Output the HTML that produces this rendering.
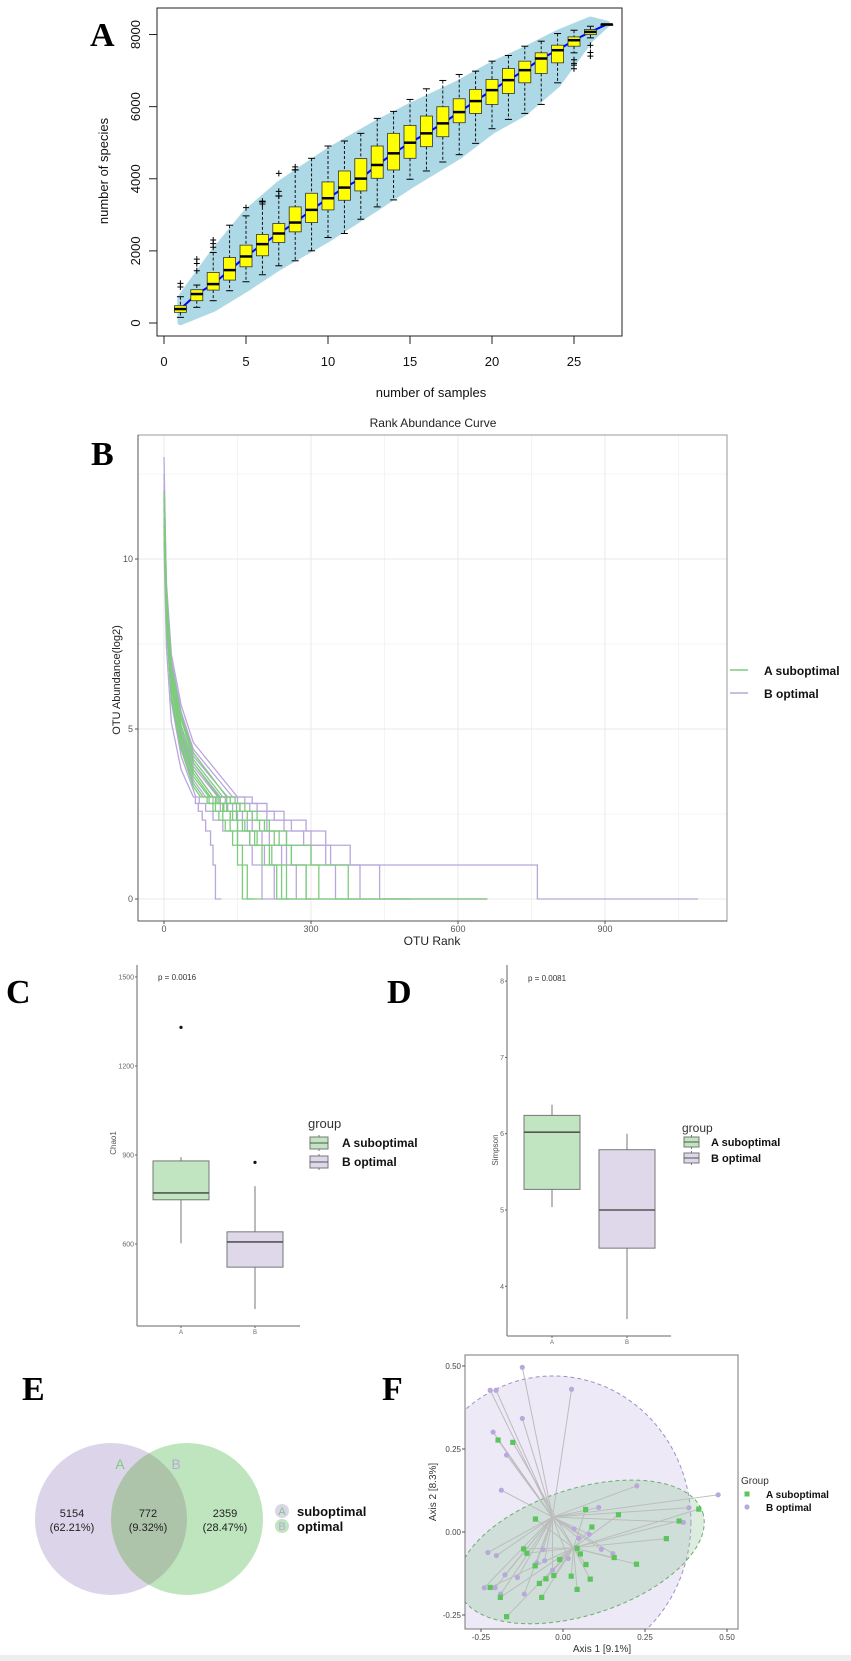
<!DOCTYPE html>
<html><head><meta charset="utf-8">
<style>
html,body{margin:0;padding:0;background:#fff;}
svg{display:block;font-family:"Liberation Sans",sans-serif;}
.let{font-family:"Liberation Serif",serif;font-weight:bold;font-size:34px;fill:#000;}
</style></head>
<body>
<svg id="fig" xmlns="http://www.w3.org/2000/svg" width="851" height="1661" viewBox="0 0 851 1661">
<rect x="0" y="0" width="851" height="1661" fill="#fff"/>
<rect x="0" y="1655" width="851" height="6" fill="#eeeeee"/>
<defs>
<clipPath id="clipB"><rect x="138" y="435" width="589" height="486"/></clipPath>
<clipPath id="clipF"><rect x="465" y="1355" width="273" height="274"/></clipPath>
<clipPath id="clipVenn"><circle cx="111" cy="1519" r="76"/></clipPath>
</defs>
</svg>
<script>
// ---------- Panel A data ----------
const aSamples=[1,2,3,4,5,6,7,8,9,10,11,12,13,14,15,16,17,18,19,20,21,22,23,24,25,26,27];
const aMed=[387,803,1079,1467,1845,2187,2482,2786,3137,3460,3755,4004,4382,4705,5000,5259,5536,5849,6154,6458,6735,7012,7335,7565,7842,8073,8280];
const aQ1=[295,618,913,1190,1559,1864,2233,2528,2786,3137,3404,3663,4013,4244,4567,4890,5166,5554,5812,6061,6366,6661,6920,7215,7676,7999,8280];
const aQ3=[480,923,1402,1818,2159,2454,2759,3220,3598,3912,4216,4558,4908,5259,5480,5739,5997,6218,6477,6753,7058,7261,7492,7704,7934,8137,8280];
const aLo=[157,434,618,895,1144,1338,1587,1725,2002,2371,2482,2878,3220,3414,3986,4216,4465,4668,4982,5388,5646,5812,6061,6661,7492,7907,8280];
const aHi=[729,1052,1956,2712,2971,3358,3524,4244,4567,4908,5047,5259,5674,5868,6200,6495,6726,6892,6984,7261,7418,7676,7815,8027,8119,8230,8280];
const aOutX=[1,1,2,2,2,3,3,3,5,6,6,7,7,7,8,8,25,25,25,25,26,26,26];
const aOutY=[1000,1100,1450,1650,1770,2100,2200,2300,3200,3300,3380,3520,3650,4150,4250,4330,7050,7150,7200,7300,7400,7500,7700];
const aBandX=[1,3,5,7,10,13,15,18,20,22,24,26,27];
const aBandHi=[700,1956,3063,3847,4770,5554,6015,6661,7169,7584,8045,8414,8300];
const aBandLo=[20,388,941,1540,2325,3201,3801,4631,5323,5830,6615,7860,8280];
const aXTicks=[0,5,10,15,20,25];
const aYTicks=[0,2000,4000,6000,8000];
// ---------- Panel B data ----------
const bSmoothRanks=[0,5,15,35,60];
const bLevels=[3,2.81,2.58,2.32,2,1.58,1,0];
const bGroup=['P','P','P','P','P','P','P','P','P','G','G','G','G','G','G','G','G'];
const bSmooth=[[13.0,9.0,6.8,5.0,3.9],[12.2,8.6,6.3,4.6,3.5],[11.5,8.0,5.8,4.2,3.2],[11.8,9.0,7.0,5.5,4.4],[12.0,9.3,7.2,5.7,4.6],[10.5,7.4,5.2,3.8,3.0],[11.0,8.3,6.3,4.9,3.8],[12.5,9.1,7.0,5.3,4.2],[11.9,8.7,6.6,5.1,4.0],
 [12.0,8.9,6.5,4.9,3.8],[11.5,8.6,6.2,4.7,3.6],[11.8,9.1,6.8,5.3,4.1],[11.0,8.1,6.0,4.5,3.4],[11.6,8.9,6.7,5.1,4.0],[11.7,9.0,6.9,5.4,4.3],[11.2,8.4,6.3,4.8,3.7],[10.8,8.1,5.9,4.4,3.3]];
const bStart3=[110,85,65,140,150,60,100,130,115,100,92,120,80,112,128,95,75];
const bEnds=[[125,140,160,180,215,250,290,300],[100,115,135,150,175,205,225,230],[72,85,100,120,150,180,200,260],[165,190,225,260,300,340,440,660],[180,210,245,290,330,380,762,1090],[64,70,78,85,95,100,105,117],[115,130,150,170,200,240,270,298],[150,175,210,245,285,330,400,659],[135,155,180,210,250,300,350,397],
 [112,128,148,165,190,220,240,254],[105,120,135,150,175,200,230,271],[135,155,180,205,235,260,290,317],[92,105,120,135,150,160,170,185],[128,148,170,195,225,260,316,376],[145,165,190,215,250,300,376,502],[108,122,140,160,185,215,250,660],[88,100,112,125,140,150,160,202]];
const bXTicks=[0,300,600,900];
const bYTicks=[0,5,10];
// ---------- Panel C / D data ----------
const cGroups=['A','B'];
const cQ1=[749,522], cMed=[772,607], cQ3=[880,641], cLo=[602,381], cHi=[893,795];
const cOutG=[0,1], cOutV=[1330,875];
const cYTicks=[600,900,1200,1500];
const dQ1=[5.27,4.5], dMed=[6.02,5.0], dQ3=[6.24,5.79], dLo=[5.04,3.57], dHi=[6.38,6.0];
const dYTicks=[4,5,6,7,8];
// ---------- Panel E data ----------
const vennCounts=['5154','772','2359'];
const vennPct=['(62.21%)','(9.32%)','(28.47%)'];
// ---------- Panel F data ----------
const fBx=[-0.124,-0.222,-0.204,0.026,-0.124,-0.213,-0.172,-0.188,0.225,0.473,0.384,0.367,0.109,0.034,0.048,0.080,-0.061,0.117,0.152,-0.229,-0.203,-0.056,-0.080,0.016,-0.032,-0.177,-0.139,-0.240,-0.207,-0.190,-0.118];
const fBy=[0.496,0.427,0.427,0.430,0.342,0.301,0.232,0.126,0.139,0.112,0.073,0.029,0.074,0.009,-0.019,-0.007,-0.053,-0.052,-0.065,-0.062,-0.071,-0.086,-0.093,-0.080,-0.115,-0.129,-0.137,-0.168,-0.168,-0.187,-0.187];
const fAx=[-0.198,-0.153,0.069,0.169,-0.084,0.088,0.414,0.354,0.315,0.043,0.053,-0.120,-0.110,0.156,-0.010,0.224,0.070,-0.085,-0.028,-0.052,0.025,0.083,-0.072,0.043,-0.222,-0.191,-0.065,-0.172];
const fAy=[0.277,0.270,0.068,0.052,0.039,0.015,0.069,0.033,-0.020,-0.049,-0.066,-0.051,-0.064,-0.077,-0.083,-0.097,-0.098,-0.102,-0.131,-0.141,-0.133,-0.142,-0.155,-0.173,-0.167,-0.197,-0.197,-0.255];
const fCentB=[-0.032,0.045], fCentA=[0.032,-0.048];
const fEllB=[-0.03,0.03,0.42,0.44,0];
const fEllA=[0.055,-0.06,0.39,0.19,18];
const fTicks=[-0.25,0,0.25,0.5];

const NS='http://www.w3.org/2000/svg';
const svg=document.getElementById('fig');
function add(parent,tag,attrs,name,inter){
  const el=document.createElementNS(NS,tag);
  for(const k in attrs) el.setAttribute(k,attrs[k]);
  
  
  parent.appendChild(el);
  return el;
}
function txt(parent,x,y,s,attrs,name){
  const a=Object.assign({x:x,y:y},attrs||{});
  const t=add(parent,'text',a,name,false);
  t.textContent=s;
  return t;
}
function grp(name){return add(svg,'g',{},name,false);}

// ================= Panel A =================
(function(){
  const g=grp('panel-a-rarefaction');
  const X=v=>164+16.4*v, Y=v=>323-0.03606*v;
  txt(g,90,46,'A',{class:'let'},'panel-a-label');
  let d='M'+X(aBandX[0])+','+Y(aBandHi[0]);
  for(let i=1;i<aBandX.length;i++) d+=' L'+X(aBandX[i])+','+Y(aBandHi[i]);
  for(let i=aBandX.length-1;i>=0;i--) d+=' L'+X(aBandX[i])+','+Y(aBandLo[i]);
  add(g,'path',{d:d+'Z',fill:'#add8e6','stroke':'#add8e6','stroke-width':6,'stroke-linejoin':'round'},'confidence-band',false);
  for(let i=0;i<aSamples.length;i++){
    const x=X(aSamples[i]);
    add(g,'line',{x1:x,x2:x,y1:Y(aHi[i]),y2:Y(aQ3[i]),stroke:'#000','stroke-width':0.9,'stroke-dasharray':'3,2'},'whisker-upper',false);
    add(g,'line',{x1:x,x2:x,y1:Y(aQ1[i]),y2:Y(aLo[i]),stroke:'#000','stroke-width':0.9,'stroke-dasharray':'3,2'},'whisker-lower',false);
    add(g,'line',{x1:x-3.5,x2:x+3.5,y1:Y(aHi[i]),y2:Y(aHi[i]),stroke:'#000','stroke-width':1},'whisker-cap',false);
    add(g,'line',{x1:x-3.5,x2:x+3.5,y1:Y(aLo[i]),y2:Y(aLo[i]),stroke:'#000','stroke-width':1},'whisker-cap',false);
  }
  let ml='';
  for(let i=0;i<aSamples.length;i++) ml+=(i?' L':'M')+X(aSamples[i])+','+Y(aMed[i]);
  add(g,'path',{d:ml,fill:'none',stroke:'#0000ff','stroke-width':2},'median-trend-line',false);
  for(let i=0;i<aSamples.length;i++){
    const x=X(aSamples[i]);
    add(g,'rect',{x:x-6,y:Y(aQ3[i]),width:12,height:Math.max(1,Y(aQ1[i])-Y(aQ3[i])),fill:'#ffff00',stroke:'#333','stroke-width':0.8},'box-sample-'+aSamples[i],false);
    add(g,'line',{x1:x-6,x2:x+6,y1:Y(aMed[i]),y2:Y(aMed[i]),stroke:'#000','stroke-width':2.5},'box-median',false);
  }
  for(let i=0;i<aOutX.length;i++){
    const x=X(aOutX[i]), y=Y(aOutY[i]);
    add(g,'path',{d:`M${x-3},${y}H${x+3}M${x},${y-3}V${y+3}`,stroke:'#000','stroke-width':1},'outlier-marker',false);
  }
  add(g,'rect',{x:157,y:8,width:465,height:328,fill:'none',stroke:'#222','stroke-width':1},'plot-frame',false);
  for(const t of aXTicks){
    add(g,'line',{x1:X(t),x2:X(t),y1:336,y2:344,stroke:'#222'},'x-tick',false);
    txt(g,X(t),366,String(t),{'text-anchor':'middle','font-size':13,fill:'#111'},'x-tick-label');
  }
  for(const t of aYTicks){
    add(g,'line',{x1:149,x2:157,y1:Y(t),y2:Y(t),stroke:'#222'},'y-tick',false);
    txt(g,0,0,String(t),{'text-anchor':'middle','font-size':13,fill:'#111',transform:`translate(140,${Y(t)}) rotate(-90)`},'y-tick-label');
  }
  txt(g,0,0,'number of species',{'text-anchor':'middle','font-size':13,fill:'#111',transform:'translate(108,171) rotate(-90)'},'y-axis-title');
  txt(g,431,397,'number of samples',{'text-anchor':'middle','font-size':13,fill:'#111'},'x-axis-title');
})();

// ================= Panel B =================
(function(){
  const g=grp('panel-b-rank-abundance');
  const X=r=>164+0.49*r, Y=v=>899-34*v;
  txt(g,91,465,'B',{class:'let'},'panel-b-label');
  txt(g,433,427,'Rank Abundance Curve',{'text-anchor':'middle','font-size':12,fill:'#222'},'chart-title');
  add(g,'rect',{x:138,y:435,width:589,height:486,fill:'#fff'},'plot-area',false);
  for(const r of [150,450,750,1050]) add(g,'line',{x1:X(r),x2:X(r),y1:435,y2:921,stroke:'#f4f4f4'},'minor-gridline',false);
  for(const v of [2.5,7.5,12.5]) add(g,'line',{x1:138,x2:727,y1:Y(v),y2:Y(v),stroke:'#f4f4f4'},'minor-gridline',false);
  for(const r of bXTicks) add(g,'line',{x1:X(r),x2:X(r),y1:435,y2:921,stroke:'#e8e8e8'},'major-gridline',false);
  for(const v of bYTicks) add(g,'line',{x1:138,x2:727,y1:Y(v),y2:Y(v),stroke:'#e8e8e8'},'major-gridline',false);
  const cg=add(g,'g',{'clip-path':'url(#clipB)'},'curves',false);
  const order=[];
  for(let i=0;i<bGroup.length;i++) order.push(i);
  order.sort((a,b)=>(bGroup[a]===bGroup[b]?0:(bGroup[a]==='G'?1:-1)));
  for(const i of order){
    let d='M'+X(bSmoothRanks[0])+','+Y(bSmooth[i][0]);
    for(let k=1;k<bSmoothRanks.length;k++) d+=' L'+X(bSmoothRanks[k])+','+Y(bSmooth[i][k]);
    d+=' L'+X(bStart3[i])+','+Y(bLevels[0]);
    for(let k=0;k<bLevels.length;k++){
      d+=' H'+X(bEnds[i][k]);
      if(k<bLevels.length-1) d+=' V'+Y(bLevels[k+1]);
    }
    add(cg,'path',{d:d,fill:'none',stroke:bGroup[i]==='G'?'#7dcc7d':'#b9a7dc','stroke-width':1.3},'curve-'+(bGroup[i]==='G'?'suboptimal':'optimal'),false);
  }
  add(g,'rect',{x:138,y:435,width:589,height:486,fill:'none',stroke:'#999','stroke-width':1},'plot-frame',false);
  add(g,'line',{x1:138,x2:138,y1:435,y2:921,stroke:'#555'},'y-axis-line',false);
  add(g,'line',{x1:138,x2:727,y1:921,y2:921,stroke:'#555'},'x-axis-line',false);
  for(const r of bXTicks){
    add(g,'line',{x1:X(r),x2:X(r),y1:921,y2:924,stroke:'#555'},'x-tick',false);
    txt(g,X(r),932,String(r),{'text-anchor':'middle','font-size':9,fill:'#555'},'x-tick-label');
  }
  for(const v of bYTicks){
    add(g,'line',{x1:135,x2:138,y1:Y(v),y2:Y(v),stroke:'#555'},'y-tick',false);
    txt(g,133,Y(v)+3,String(v),{'text-anchor':'end','font-size':9,fill:'#555'},'y-tick-label');
  }
  txt(g,432,945,'OTU Rank',{'text-anchor':'middle','font-size':12,fill:'#222'},'x-axis-title');
  txt(g,0,0,'OTU Abundance(log2)',{'text-anchor':'middle','font-size':11,fill:'#222',transform:'translate(120,680) rotate(-90)'},'y-axis-title');
  add(g,'line',{x1:730,x2:748,y1:670,y2:670,stroke:'#7dcc7d','stroke-width':1.5},'legend-key-suboptimal',false);
  add(g,'line',{x1:730,x2:748,y1:693,y2:693,stroke:'#b9a7dc','stroke-width':1.5},'legend-key-optimal',false);
  txt(g,764,675,'A  suboptimal',{'font-size':12,'font-weight':'bold',fill:'#111','xml:space':'preserve'},'legend-entry-suboptimal');
  txt(g,764,698,'B  optimal',{'font-size':12,'font-weight':'bold',fill:'#111','xml:space':'preserve'},'legend-entry-optimal');
})();

// ================= Panels C and D =================
function boxPanel(cfg){
  const g=grp(cfg.name);
  txt(g,cfg.letterX,1003,cfg.letter,{class:'let'},cfg.name+'-label');
  const Y=cfg.Y;
  add(g,'line',{x1:cfg.axisX,x2:cfg.axisX,y1:965,y2:cfg.axisY,stroke:'#666','stroke-width':1},'y-axis-line',false);
  add(g,'line',{x1:cfg.axisX,x2:cfg.axisR,y1:cfg.axisY,y2:cfg.axisY,stroke:'#666','stroke-width':1},'x-axis-line',false);
  for(const t of cfg.ticks){
    add(g,'line',{x1:cfg.axisX-2,x2:cfg.axisX,y1:Y(t),y2:Y(t),stroke:'#666'},'y-tick',false);
    txt(g,cfg.axisX-3,Y(t)+2.5,String(t),{'text-anchor':'end','font-size':7,fill:'#666'},'y-tick-label');
  }
  txt(g,cfg.axisX+21,cfg.pY,cfg.p,{'font-size':8,fill:'#333'},'p-value');
  txt(g,0,0,cfg.ytitle,{'text-anchor':'middle','font-size':8,fill:'#555',transform:`translate(${cfg.ytX},${cfg.ytY}) rotate(-90)`},'y-axis-title');
  const fills=['#c0e5c0','#ded8ea'];
  for(let i=0;i<cGroups.length;i++){
    const x=cfg.xs[i], hw=cfg.hw;
    add(g,'line',{x1:x,x2:x,y1:Y(cfg.hi[i]),y2:Y(cfg.lo[i]),stroke:'#777','stroke-width':1},'whisker-'+cGroups[i],false);
    add(g,'rect',{x:x-hw,y:Y(cfg.q3[i]),width:2*hw,height:Y(cfg.q1[i])-Y(cfg.q3[i]),fill:fills[i],stroke:'#777','stroke-width':1},'box-'+cGroups[i],false);
    add(g,'line',{x1:x-hw,x2:x+hw,y1:Y(cfg.med[i]),y2:Y(cfg.med[i]),stroke:'#555','stroke-width':1.6},'median-'+cGroups[i],false);
    add(g,'line',{x1:x,x2:x,y1:cfg.axisY,y2:cfg.axisY+2,stroke:'#666'},'x-tick',false);
    txt(g,x,cfg.axisY+8,cGroups[i],{'text-anchor':'middle','font-size':6,fill:'#666'},'x-tick-label');
  }
  if(cfg.outG){
    for(let i=0;i<cfg.outG.length;i++)
      add(g,'circle',{cx:cfg.xs[cfg.outG[i]],cy:Y(cfg.outV[i]),r:1.6,fill:'#111'},'outlier-point',false);
  }
  const L=cfg.leg;
  txt(g,L.x,L.y+5,'group',{'font-size':L.fs+1,fill:'#333'},'legend-title');
  const labs=['A  suboptimal','B  optimal'];
  for(let i=0;i<2;i++){
    const ky=L.ky[i];
    add(g,'line',{x1:L.x+2+L.kw/2,x2:L.x+2+L.kw/2,y1:ky-L.kh/2-2,y2:ky+L.kh/2+2,stroke:'#777'},'legend-key-whisker',false);
    add(g,'rect',{x:L.x+2,y:ky-L.kh/2,width:L.kw,height:L.kh,fill:fills[i],stroke:'#777'},'legend-key-'+(i?'optimal':'suboptimal'),false);
    add(g,'line',{x1:L.x+2,x2:L.x+2+L.kw,y1:ky,y2:ky,stroke:'#555'},'legend-key-median',false);
    txt(g,L.tx,ky+4,labs[i],{'font-size':L.fs,'font-weight':'bold',fill:'#111','xml:space':'preserve'},'legend-entry-'+(i?'optimal':'suboptimal'));
  }
}
boxPanel({name:'panel-c-chao1',letter:'C',letterX:6,Y:v=>1244-(v-600)*0.2967,axisX:137,axisY:1326,axisR:300,ticks:cYTicks,
  p:'p = 0.0016',pY:980,ytitle:'Chao1',ytX:116,ytY:1143,xs:[181,255],hw:28,q1:cQ1,med:cMed,q3:cQ3,lo:cLo,hi:cHi,outG:cOutG,outV:cOutV,
  leg:{x:308,y:1123,ky:[1143,1162],kw:18,kh:12,tx:342,fs:12}});
boxPanel({name:'panel-d-simpson',letter:'D',letterX:387,Y:v=>1210-(v-5)*76.3,axisX:507,axisY:1336,axisR:671,ticks:dYTicks,
  p:'p = 0.0081',pY:981,ytitle:'Simpson',ytX:498,ytY:1150,xs:[552,627],hw:28,q1:dQ1,med:dMed,q3:dQ3,lo:dLo,hi:dHi,
  leg:{x:682,y:1127,ky:[1142,1158],kw:15,kh:10,tx:711,fs:11}});

// ================= Panel E =================
(function(){
  const g=grp('panel-e-venn');
  txt(g,22,1400,'E',{class:'let'},'panel-e-label');
  add(g,'circle',{cx:111,cy:1519,r:76,fill:'#dcd5ea'},'venn-circle-a',false);
  add(g,'circle',{cx:187,cy:1519,r:76,fill:'#bfe5bf'},'venn-circle-b',false);
  add(g,'circle',{cx:187,cy:1519,r:76,fill:'#adc4ab','clip-path':'url(#clipVenn)'},'venn-overlap',false);
  txt(g,120,1469,'A',{'text-anchor':'middle','font-size':14,fill:'#7ccb7c'},'venn-set-label-a');
  txt(g,176,1469,'B',{'text-anchor':'middle','font-size':14,fill:'#b7a8da'},'venn-set-label-b');
  const xs=[72,148,225];
  for(let i=0;i<3;i++){
    txt(g,xs[i],1517,vennCounts[i],{'text-anchor':'middle','font-size':11,fill:'#222'},'venn-count');
    txt(g,xs[i],1531,vennPct[i],{'text-anchor':'middle','font-size':11,fill:'#222'},'venn-percent');
  }
  add(g,'circle',{cx:282,cy:1511,r:7,fill:'#dcd5ea'},'legend-key-a',false);
  txt(g,282,1515,'A',{'text-anchor':'middle','font-size':11,fill:'#7ccb7c'},'legend-key-letter');
  add(g,'circle',{cx:282,cy:1526,r:7,fill:'#bfe5bf'},'legend-key-b',false);
  txt(g,282,1530,'B',{'text-anchor':'middle','font-size':11,fill:'#b7a8da'},'legend-key-letter');
  txt(g,297,1516,'suboptimal',{'font-size':13,'font-weight':'bold',fill:'#111'},'legend-entry-suboptimal');
  txt(g,297,1531,'optimal',{'font-size':13,'font-weight':'bold',fill:'#111'},'legend-entry-optimal');
})();

// ================= Panel F =================
(function(){
  const g=grp('panel-f-pcoa');
  const X=v=>563+328*v, Y=v=>1532-332*v;
  txt(g,382,1400,'F',{class:'let'},'panel-f-label');
  add(g,'rect',{x:465,y:1355,width:273,height:274,fill:'#fff'},'plot-area',false);
  const cg=add(g,'g',{'clip-path':'url(#clipF)'},'plot-content',false);
  add(cg,'ellipse',{cx:X(fEllB[0]),cy:Y(fEllB[1]),rx:fEllB[2]*328,ry:fEllB[3]*332,transform:`rotate(${-fEllB[4]} ${X(fEllB[0])} ${Y(fEllB[1])})`,fill:'rgba(205,192,232,0.35)',stroke:'#9d8fc6','stroke-width':1,'stroke-dasharray':'4,3'},'ellipse-optimal',false);
  add(cg,'ellipse',{cx:X(fEllA[0]),cy:Y(fEllA[1]),rx:fEllA[2]*328,ry:fEllA[3]*332,transform:`rotate(${-fEllA[4]} ${X(fEllA[0])} ${Y(fEllA[1])})`,fill:'rgba(150,200,160,0.33)',stroke:'#6aae6a','stroke-width':1,'stroke-dasharray':'4,3'},'ellipse-suboptimal',false);
  for(let i=0;i<fBx.length;i++)
    add(cg,'line',{x1:X(fCentB[0]),y1:Y(fCentB[1]),x2:X(fBx[i]),y2:Y(fBy[i]),stroke:'#bcbcbc','stroke-width':1},'spoke-optimal',false);
  for(let i=0;i<fAx.length;i++)
    add(cg,'line',{x1:X(fCentA[0]),y1:Y(fCentA[1]),x2:X(fAx[i]),y2:Y(fAy[i]),stroke:'#bcbcbc','stroke-width':1},'spoke-suboptimal',false);
  for(let i=0;i<fBx.length;i++)
    add(g,'circle',{cx:X(fBx[i]),cy:Y(fBy[i]),r:2.6,fill:'#b9a8dc'},'point-optimal',false);
  for(let i=0;i<fAx.length;i++)
    add(g,'rect',{x:X(fAx[i])-2.6,y:Y(fAy[i])-2.6,width:5.2,height:5.2,fill:'#5cc45c'},'point-suboptimal',false);
  add(g,'rect',{x:465,y:1355,width:273,height:274,fill:'none',stroke:'#777','stroke-width':1},'plot-frame',false);
  for(const t of fTicks){
    add(g,'line',{x1:X(t),x2:X(t),y1:1629,y2:1632,stroke:'#555'},'x-tick',false);
    txt(g,X(t),1640,t.toFixed(2),{'text-anchor':'middle','font-size':8,fill:'#444'},'x-tick-label');
    add(g,'line',{x1:462,x2:465,y1:Y(t),y2:Y(t),stroke:'#555'},'y-tick',false);
    txt(g,461,Y(t)+3,t.toFixed(2),{'text-anchor':'end','font-size':8,fill:'#444'},'y-tick-label');
  }
  txt(g,602,1652,'Axis 1 [9.1%]',{'text-anchor':'middle','font-size':10,fill:'#333'},'x-axis-title');
  txt(g,0,0,'Axis 2 [8.3%]',{'text-anchor':'middle','font-size':10,fill:'#333',transform:'translate(436,1492) rotate(-90)'},'y-axis-title');
  txt(g,741,1484,'Group',{'font-size':10,fill:'#333'},'legend-title');
  add(g,'rect',{x:744.5,y:1491.5,width:5,height:5,fill:'#5cc45c'},'legend-key-suboptimal',false);
  add(g,'circle',{cx:747,cy:1507,r:2.6,fill:'#b9a8dc'},'legend-key-optimal',false);
  txt(g,766,1498,'A  suboptimal',{'font-size':10,'font-weight':'bold',fill:'#111','xml:space':'preserve'},'legend-entry-suboptimal');
  txt(g,766,1511,'B  optimal',{'font-size':10,'font-weight':'bold',fill:'#111','xml:space':'preserve'},'legend-entry-optimal');
})();
</script>
</body></html>
